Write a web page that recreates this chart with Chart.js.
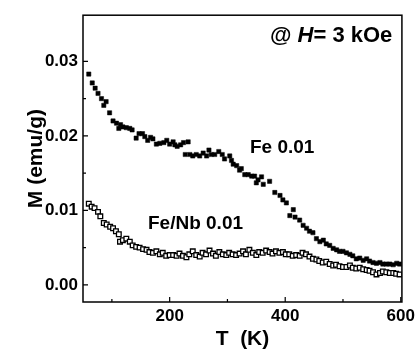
<!DOCTYPE html>
<html>
<head>
<meta charset="utf-8">
<script src="https://cdn.jsdelivr.net/npm/chart.js@4.4.1/dist/chart.umd.min.js"></script>
<style>
  html, body { margin: 0; padding: 0; background: #fff; }
</style>
</head>
<body>
<canvas id="mt" width="419" height="352"></canvas>
<script>
// Fe 0.01 (filled squares)
const feT = [60, 66, 71, 76, 82, 86, 90, 96, 102, 108, 112, 115, 119, 125, 131, 135, 142, 147, 153, 157,
  162, 167, 171, 177, 183, 190, 195, 200, 206, 209, 213, 219, 224, 227, 232, 235, 240, 246, 252, 258,
  264, 268, 272, 278, 285, 291, 295, 304, 307, 310, 316, 321, 324, 330, 336, 342, 347, 350, 353, 359,
  362, 373, 382, 391, 396, 402, 408, 414, 417, 425, 431, 437, 442, 448, 454, 460, 466, 471, 477, 483,
  489, 494, 500, 506, 512, 517, 523, 529, 535, 541, 546, 552, 558, 564, 569, 575, 581, 587, 593, 598];
const feM = [0.0283, 0.0271, 0.0264, 0.0257, 0.0250, 0.0241, 0.0246, 0.0231, 0.0220, 0.0217, 0.0210, 0.0215, 0.0212, 0.0211, 0.0210, 0.0208, 0.0197, 0.0203, 0.0203, 0.0199,
  0.0194, 0.0198, 0.0196, 0.0189, 0.0190, 0.0191, 0.0194, 0.0189, 0.0192, 0.0188, 0.0186, 0.0188, 0.0191, 0.0175, 0.0192, 0.0175, 0.0173, 0.0175, 0.0173, 0.0177,
  0.0173, 0.0181, 0.0175, 0.0175, 0.0179, 0.0175, 0.0169, 0.0173, 0.0167, 0.0162, 0.0160, 0.0154, 0.0156, 0.0148, 0.0148, 0.0146, 0.0146, 0.0137, 0.0141, 0.0145,
  0.0135, 0.0139, 0.0124, 0.0120, 0.0114, 0.0110, 0.0093, 0.0101, 0.0091, 0.0087, 0.0080, 0.0076, 0.0072, 0.0070, 0.0062, 0.0058, 0.0060, 0.0055, 0.0053, 0.0049,
  0.0047, 0.0045, 0.0045, 0.0043, 0.0041, 0.0039, 0.0035, 0.0036, 0.0033, 0.0035, 0.0032, 0.0030, 0.0029, 0.0030, 0.0028, 0.0028, 0.0028, 0.0027, 0.0029, 0.0028];

// Fe/Nb 0.01 (open squares)
const nbT = [60, 65, 70, 76, 80, 86, 91, 97, 102, 107, 112, 114, 119, 125, 131, 136, 142, 148, 154, 160,
  165, 171, 177, 183, 188, 194, 200, 206, 212, 217, 223, 229, 234, 240, 246, 252, 257, 263, 269, 275,
  280, 286, 292, 298, 303, 309, 315, 321, 327, 332, 338, 344, 350, 355, 361, 367, 373, 378, 384, 390,
  396, 401, 407, 413, 419, 425, 430, 436, 442, 448, 454, 459, 465, 471, 477, 483, 488, 494, 500, 506,
  512, 517, 523, 529, 535, 541, 546, 552, 558, 564, 569, 575, 581, 587, 592, 598];
const nbM = [0.0109, 0.0105, 0.0103, 0.0098, 0.0092, 0.0083, 0.0081, 0.0078, 0.0076, 0.0072, 0.0068, 0.0058, 0.0060, 0.0062, 0.0058, 0.0053, 0.0051, 0.0050, 0.0048, 0.0047,
  0.0044, 0.0043, 0.0045, 0.0041, 0.0043, 0.0039, 0.0040, 0.0040, 0.0039, 0.0042, 0.0039, 0.0037, 0.0041, 0.0045, 0.0040, 0.0038, 0.0043, 0.0041, 0.0046, 0.0042,
  0.0039, 0.0044, 0.0041, 0.0040, 0.0043, 0.0041, 0.0040, 0.0042, 0.0045, 0.0041, 0.0047, 0.0043, 0.0040, 0.0044, 0.0043, 0.0046, 0.0044, 0.0042, 0.0045, 0.0043,
  0.0044, 0.0041, 0.0041, 0.0039, 0.0040, 0.0039, 0.0043, 0.0041, 0.0038, 0.0035, 0.0034, 0.0032, 0.0030, 0.0031, 0.0028, 0.0026, 0.0027, 0.0025, 0.0024, 0.0024,
  0.0026, 0.0023, 0.0022, 0.0023, 0.0021, 0.0020, 0.0019, 0.0017, 0.0014, 0.0016, 0.0018, 0.0017, 0.0016, 0.0016, 0.0015, 0.0014];

const xTicks = [200, 400, 600];
const xMinor = [100, 300, 500];
const yTicks = [0, 0.01, 0.02, 0.03];
const yMinor = [0.005, 0.015, 0.025];

const FONT = "'Liberation Sans', Arial, sans-serif";

// frame, inward ticks and the text labels
const framePlugin = {
  id: "framePlugin",
  afterDraw(chart) {
    const { ctx, chartArea: a, scales } = chart;
    ctx.save();
    ctx.strokeStyle = "#000";
    ctx.lineWidth = 1.5;
    ctx.strokeRect(a.left, a.top, a.right - a.left, a.bottom - a.top);

    ctx.lineWidth = 1.2;
    ctx.beginPath();
    xTicks.forEach((v) => {
      const px = scales.x.getPixelForValue(v);
      ctx.moveTo(px, a.bottom);
      ctx.lineTo(px, a.bottom - 5);
    });
    xMinor.forEach((v) => {
      const px = scales.x.getPixelForValue(v);
      ctx.moveTo(px, a.bottom);
      ctx.lineTo(px, a.bottom - 3);
    });
    yTicks.forEach((v) => {
      const py = scales.y.getPixelForValue(v);
      ctx.moveTo(a.left, py);
      ctx.lineTo(a.left + 5, py);
    });
    yMinor.forEach((v) => {
      const py = scales.y.getPixelForValue(v);
      ctx.moveTo(a.left, py);
      ctx.lineTo(a.left + 3, py);
    });
    ctx.stroke();

    ctx.fillStyle = "#000";
    ctx.textBaseline = "alphabetic";
    ctx.font = "bold 19px " + FONT;
    ctx.fillText("Fe 0.01", 250, 153);
    ctx.fillText("Fe/Nb 0.01", 148, 229);

    // @ H= 3 kOe, with italic H
    let x = 270;
    const base = 42;
    ctx.font = "bold 22px " + FONT;
    ctx.fillText("@ ", x, base);
    x += ctx.measureText("@ ").width;
    ctx.font = "italic bold 22px " + FONT;
    ctx.fillText("H", x, base);
    x += ctx.measureText("H").width;
    ctx.font = "bold 22px " + FONT;
    ctx.fillText("= 3 kOe", x, base);
    ctx.restore();
  },
};

new Chart(document.getElementById("mt"), {
  type: "scatter",
  data: {
    datasets: [
      {
        label: "Fe 0.01",
        data: feT.map((t, i) => ({ x: t, y: feM[i] })),
        pointStyle: "rect",
        pointRadius: 3,
        pointBackgroundColor: "#000",
        pointBorderColor: "#000",
        pointBorderWidth: 0.5,
      },
      {
        label: "Fe/Nb 0.01",
        data: nbT.map((t, i) => ({ x: t, y: nbM[i] })),
        pointStyle: "rect",
        pointRadius: 3.3,
        pointBackgroundColor: "#fff",
        pointBorderColor: "#000",
        pointBorderWidth: 1.3,
      },
    ],
  },
  options: {
    responsive: false,
    animation: false,
    devicePixelRatio: 1,
    layout: { padding: { top: 7, right: 17, left: 0, bottom: 0 } },
    plugins: {
      legend: { display: false },
      tooltip: { enabled: false },
    },
    scales: {
      x: {
        type: "linear",
        min: 50,
        max: 602,
        afterBuildTicks: (scale) => {
          scale.ticks = xTicks.map((v) => ({ value: v }));
        },
        afterFit: (scale) => {
          scale.height = 50;
        },
        grid: { display: false, drawTicks: false },
        border: { display: false },
        ticks: {
          padding: 4,
          color: "#000",
          maxRotation: 0,
          font: { family: FONT, size: 17, weight: "bold" },
        },
        title: {
          display: true,
          text: "T  (K)",
          color: "#000",
          padding: { top: 0, bottom: 0 },
          font: { family: FONT, size: 21, weight: "bold" },
        },
      },
      y: {
        type: "linear",
        min: -0.0023,
        max: 0.0362,
        afterBuildTicks: (scale) => {
          scale.ticks = yTicks.map((v) => ({ value: v }));
        },
        afterFit: (scale) => {
          scale.width = 83;
        },
        grid: { display: false, drawTicks: false },
        border: { display: false },
        ticks: {
          padding: 5,
          color: "#000",
          font: { family: FONT, size: 17, weight: "bold" },
          callback: (v) => v.toFixed(2),
        },
        title: {
          display: true,
          text: "M (emu/g)",
          color: "#000",
          padding: { top: 24, bottom: 0 },
          font: { family: FONT, size: 21, weight: "bold" },
        },
      },
    },
  },
  plugins: [framePlugin],
});
</script>
</body>
</html>
